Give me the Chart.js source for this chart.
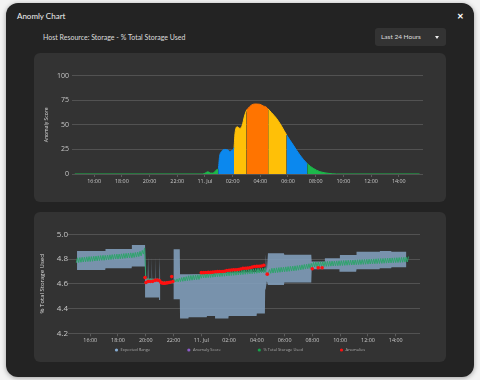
<!DOCTYPE html>
<html>
<head>
<meta charset="utf-8">
<script src="https://cdn.jsdelivr.net/npm/chart.js@4.4.0/dist/chart.umd.min.js"></script>
<style>
  body { margin: 0; width: 480px; height: 380px; background: #f3f3f3; overflow: hidden; font-family: Lato, "Open Sans", sans-serif; }
  .modal { position: absolute; left: 6px; top: 3px; width: 468px; height: 374px; background: #232323; border-radius: 12px; box-shadow: 0 1px 5px rgba(0,0,0,0.35); }
  .title { position: absolute; left: 11px; top: 8px; font-size: 8px; color: #f0f0f0; }
  .close { position: absolute; left: 451px; top: 8px; font-size: 8px; font-weight: 700; color: #fff; }
  .subtitle { position: absolute; left: 37px; top: 29.5px; font-size: 7px; color: #ddd; }
  .dropdown { position: absolute; left: 369px; top: 25px; width: 71px; height: 18px; background: #333; border-radius: 3px; color: #ddd; font-size: 6.5px; }
  .dropdown span { position: absolute; left: 6px; top: 4.5px; }
  .caret { position: absolute; left: 60px; top: 8px; width: 0; height: 0; border-left: 2.5px solid transparent; border-right: 2.5px solid transparent; border-top: 3px solid #eee; }
  .panel { position: absolute; left: 28px; width: 412px; background: #333; border-radius: 6px; }
  canvas { display: block; }
</style>
</head>
<body>
<div class="modal">
  <div class="title">Anomly Chart</div>
  <div class="close">&#x2715;</div>
  <div class="subtitle">Host Resource: Storage - % Total Storage Used</div>
  <div class="dropdown"><span>Last 24 Hours</span><div class="caret"></div></div>
  <div class="panel" style="top:50px;height:149px"><canvas id="scoreChart" width="412" height="149"></canvas></div>
  <div class="panel" style="top:209px;height:150px"><canvas id="usedChart" width="412" height="150"></canvas></div>
</div>
<script>
// hours relative to 11 Jul 00:00
const hourTicks = [-8, -6, -4, -2, 0, 2, 4, 6, 8, 10, 12, 14];
const tickLabels = ['16:00', '18:00', '20:00', '22:00', '11. Jul', '02:00', '04:00', '06:00', '08:00', '10:00', '12:00', '14:00'];

// anomaly score (top chart), level = severity colour of the stretch after the point
const scoreHours = [-9.4, -0.15, 0.05, 0.22, 0.38, 0.55, 0.72, 0.88, 0.96, 1.06, 1.2, 1.44, 1.66, 1.8, 1.95,
  2.1, 2.17, 2.33, 2.53, 2.7, 2.84, 3.01, 3.13, 3.37, 3.61, 3.97, 4.21, 4.4, 4.57, 4.81, 5.17, 5.53,
  5.9, 6.38, 6.86, 7.39, 7.82, 8.3, 8.9, 9.5, 15.5];
const scoreValues = [0, 0, 1.2, 2.3, 1.0, 0.9, 2.5, 4.5, 5, 18, 23, 25, 24.5, 23, 24,
  27, 41, 48, 46.4, 49.8, 58, 65, 67, 70.2, 71.2, 70.9, 69.2, 68.3, 66.1, 62.4, 56.6, 48.8,
  39.7, 29.5, 19.3, 10.5, 5.8, 2.4, 0.7, 0, 0];
const scoreLevels = [0, 0, 0, 0, 0, 0, 0, 0, 1, 1, 1, 1, 1, 1, 1,
  2, 2, 2, 2, 2, 2, 3, 3, 3, 3, 3, 3, 3, 2, 2, 2, 2,
  1, 1, 1, 0, 0, 0, 0, 0, 0];

// % total storage used, every 5 minutes from 15:00 (one row per hour)
const usedStart = -9;
const usedStep = 1 / 12;
const usedValues = [
  4.770, 4.810, 4.772, 4.812, 4.774, 4.814, 4.776, 4.816, 4.778, 4.818, 4.780, 4.820,
  4.780, 4.820, 4.782, 4.822, 4.784, 4.824, 4.786, 4.826, 4.788, 4.828, 4.790, 4.830,
  4.790, 4.830, 4.792, 4.832, 4.794, 4.834, 4.796, 4.836, 4.798, 4.838, 4.800, 4.840,
  4.800, 4.840, 4.802, 4.842, 4.804, 4.844, 4.806, 4.846, 4.808, 4.848, 4.810, 4.850,
  4.810, 4.850, 4.813, 4.853, 4.816, 4.856, 4.820, 4.862, 4.825, 4.870, 4.840, 4.890,
  4.650, 4.635, 4.645, 4.630, 4.642, 4.628, 4.640, 4.626, 4.636, 4.624, 4.632, 4.622,
  4.625, 4.612, 4.622, 4.610, 4.620, 4.608, 4.618, 4.608, 4.616, 4.608, 4.615, 4.610,
  4.612, 4.635, 4.615, 4.640, 4.615, 4.645, 4.618, 4.650, 4.620, 4.655, 4.622, 4.658,
  4.625, 4.665, 4.627, 4.667, 4.629, 4.669, 4.631, 4.671, 4.633, 4.673, 4.635, 4.675,
  4.645, 4.685, 4.647, 4.687, 4.648, 4.688, 4.650, 4.690, 4.651, 4.691, 4.653, 4.693,
  4.655, 4.695, 4.657, 4.697, 4.658, 4.698, 4.660, 4.700, 4.661, 4.701, 4.663, 4.703,
  4.665, 4.705, 4.667, 4.707, 4.668, 4.708, 4.670, 4.710, 4.671, 4.711, 4.673, 4.713,
  4.675, 4.715, 4.677, 4.717, 4.678, 4.718, 4.680, 4.720, 4.681, 4.721, 4.683, 4.723,
  4.685, 4.725, 4.687, 4.727, 4.688, 4.728, 4.690, 4.730, 4.690, 4.672, 4.690, 4.715,
  4.685, 4.725, 4.687, 4.727, 4.689, 4.729, 4.691, 4.731, 4.693, 4.733, 4.695, 4.735,
  4.697, 4.737, 4.699, 4.739, 4.701, 4.741, 4.703, 4.743, 4.705, 4.745, 4.707, 4.747,
  4.710, 4.750, 4.713, 4.753, 4.716, 4.756, 4.719, 4.759, 4.722, 4.762, 4.725, 4.765,
  4.735, 4.775, 4.736, 4.776, 4.737, 4.777, 4.738, 4.778, 4.739, 4.779, 4.740, 4.780,
  4.741, 4.781, 4.742, 4.782, 4.743, 4.783, 4.744, 4.784, 4.745, 4.785, 4.746, 4.786,
  4.747, 4.787, 4.748, 4.788, 4.749, 4.789, 4.750, 4.790, 4.751, 4.791, 4.752, 4.792,
  4.753, 4.793, 4.754, 4.794, 4.755, 4.795, 4.756, 4.796, 4.757, 4.797, 4.758, 4.798,
  4.759, 4.799, 4.760, 4.800, 4.761, 4.801, 4.762, 4.802, 4.763, 4.803, 4.764, 4.804,
  4.765, 4.805, 4.766, 4.806, 4.767, 4.807, 4.768, 4.808, 4.769, 4.809, 4.770, 4.810,
  4.771, 4.811, 4.772, 4.812, 4.773, 4.813, 4.774, 4.814, 4.775, 4.815, 4.776, 4.820
];

// expected range band
const bandHours = [-8.95, -6.92, -6.9, -5.02, -5.0, -4.05, -4.0, -3.86, -3.83, -3.8, -3.6, -3.57, -3.54,
  -3.32, -3.29, -3.26, -3.04, -3.01, -2.95, -2.5, -2.01, -1.55, -1.53, -0.93, -0.91, 0.39, 0.41,
  0.99, 1.01, 1.95, 1.97, 3.98, 4.0, 4.58, 4.6, 4.64, 4.72, 4.8, 5.95, 5.98, 7.92, 7.95, 8.87,
  8.9, 9.95, 9.98, 11.15, 11.18, 12.83, 12.86, 13.67, 13.7, 14.77];
const bandUpper = [4.865, 4.865, 4.881, 4.881, 4.914, 4.914, 4.64, 4.64, 4.82, 4.64, 4.64, 4.82, 4.64,
  4.64, 4.82, 4.64, 4.64, 4.82, 4.62, null, 4.879, 4.879, 4.677, 4.677, 4.677, 4.68, 4.685,
  4.685, 4.687, 4.69, 4.69, 4.695, 4.70, 4.70, 4.70, 4.84, 4.70, 4.846, 4.846, 4.835, 4.835, 4.78, 4.78,
  4.806, 4.806, 4.833, 4.833, 4.86, 4.86, 4.865, 4.865, 4.86, 4.86];
const bandLower = [4.712, 4.712, 4.725, 4.725, 4.739, 4.739, 4.49, 4.49, 4.49, 4.49, 4.49, 4.49, 4.49,
  4.49, 4.49, 4.49, 4.49, 4.47, 4.47, null, 4.475, 4.475, 4.32, 4.32, 4.33, 4.33, 4.34,
  4.34, 4.32, 4.32, 4.34, 4.34, 4.36, 4.36, 4.55, 4.56, 4.62, 4.59, 4.59, 4.61, 4.61, 4.717, 4.717,
  4.717, 4.717, 4.698, 4.698, 4.717, 4.717, 4.725, 4.725, 4.733, 4.733];

// anomalies
const anomalyHours = [-4.05, -3.98, -3.83, -3.67, -3.5, -3.33, -3.17, -3.0, -2.9, -2.83, -2.73, -2.63, -2.53,
  -2.43, -2.33, -2.23, -2.13, -2.05,
  0.0, 0.17, 0.33, 0.5, 0.67, 0.83, 1.0, 1.17, 1.33, 1.5, 1.67, 1.83, 2.0, 2.17, 2.33, 2.5, 2.67,
  2.83, 3.0, 3.17, 3.33, 3.5, 3.67, 3.83, 4.0, 4.17, 4.33, 4.5, 4.75,
  7.99, 8.42, 8.7];
const anomalyValues = [4.65, 4.61, 4.62, 4.618, 4.62, 4.628, 4.63, 4.625, 4.61, 4.606, 4.604, 4.604, 4.606,
  4.608, 4.61, 4.612, 4.658, 4.618,
  4.690, 4.690, 4.691, 4.692, 4.692, 4.694, 4.697, 4.698, 4.700, 4.700, 4.702, 4.708, 4.710, 4.712, 4.713, 4.713, 4.715,
  4.720, 4.725, 4.726, 4.727, 4.730, 4.735, 4.740, 4.741, 4.742, 4.744, 4.750, 4.678,
  4.722, 4.730, 4.730];

const levelColors = ['#1db84b', '#0b88ee', '#ffc007', '#ff7400'];
const tickColor = '#c8c8c8';
const gridColor = '#525252';

Chart.defaults.font.family = '"Open Sans", sans-serif';

function timeAxis(fontSize, height) {
  return {
    type: 'linear',
    min: -9.6,
    max: 15.75,
    afterBuildTicks: s => { s.ticks = hourTicks.map(v => ({ value: v })); },
    afterFit: s => { s.height = height; },
    ticks: {
      color: tickColor,
      font: { size: fontSize },
      padding: 1,
      maxRotation: 0,
      autoSkip: false,
      callback: (v, i) => tickLabels[i]
    },
    grid: { drawOnChartArea: false, drawTicks: true, tickLength: 3, color: '#5c5c5c' },
    border: { display: false }
  };
}

new Chart(document.getElementById('scoreChart'), {
  type: 'line',
  data: {
    datasets: [{
      label: 'Anomaly Score',
      data: scoreHours.map((h, i) => ({ x: h, y: scoreValues[i] })),
      fill: 'origin',
      borderWidth: 1,
      borderColor: levelColors[0],
      backgroundColor: levelColors[0],
      pointRadius: 0,
      cubicInterpolationMode: 'monotone',
      segment: {
        borderColor: c => levelColors[scoreLevels[c.p0DataIndex]],
        backgroundColor: c => levelColors[scoreLevels[c.p0DataIndex]]
      }
    }]
  },
  options: {
    responsive: false,
    animation: false,
    layout: { padding: { top: 22.7, right: 23, bottom: 0, left: 0 } },
    plugins: { legend: { display: false }, tooltip: { enabled: false } },
    scales: {
      x: timeAxis(5.4, 28),
      y: {
        min: 0,
        max: 100,
        afterFit: s => { s.width = 38; },
        ticks: { stepSize: 25, color: tickColor, font: { size: 7 }, padding: 3 },
        grid: { color: gridColor, drawTicks: false },
        border: { display: false },
        title: { display: true, text: 'Anomaly Score', color: '#ddd', font: { size: 5 }, padding: { top: 10, bottom: 0 } }
      }
    }
  }
});

// small dot legend under the second chart
const dotLegend = {
  id: 'dotLegend',
  afterDraw(chart) {
    const ctx = chart.ctx;
    const items = chart.data.datasets.filter(d => !d.hideInLegend);
    const gap = 37, r = 1.6, textGap = 2.5;
    ctx.save();
    ctx.font = '4px "Open Sans"';
    ctx.textBaseline = 'middle';
    const widths = items.map(d => r * 2 + textGap + ctx.measureText(d.label).width);
    const total = widths.reduce((a, b) => a + b, 0) + gap * (items.length - 1);
    let x = chart.width / 2 - total / 2;
    const y = chart.chartArea.bottom + 16.7;
    items.forEach((d, i) => {
      ctx.fillStyle = d.legendColor;
      ctx.beginPath();
      ctx.arc(x + r, y, r, 0, Math.PI * 2);
      ctx.fill();
      ctx.fillStyle = '#aaa';
      ctx.fillText(d.label, x + r * 2 + textGap, y);
      x += widths[i] + gap;
    });
    ctx.restore();
  }
};

const bandColor = 'rgba(132,162,192,0.86)';

new Chart(document.getElementById('usedChart'), {
  type: 'line',
  data: {
    datasets: [
      {
        label: 'Expected Range',
        legendColor: '#86acd2',
        data: bandHours.map((h, i) => ({ x: h, y: bandUpper[i] })),
        fill: '+1',
        backgroundColor: bandColor,
        borderWidth: 0,
        pointRadius: 0,
        order: 3
      },
      {
        label: 'Expected Lower',
        hideInLegend: true,
        data: bandHours.map((h, i) => ({ x: h, y: bandLower[i] })),
        fill: false,
        borderWidth: 0,
        pointRadius: 0,
        order: 3
      },
      {
        label: 'Anomaly Score',
        legendColor: '#8c5cc8',
        data: [],
        borderColor: '#8c5cc8',
        order: 2
      },
      {
        label: '% Total Storage Used',
        legendColor: '#16a34a',
        data: usedValues.map((v, i) => ({ x: usedStart + i * usedStep, y: v })),
        borderColor: '#2ea56c',
        borderWidth: 1,
        pointRadius: 0,
        fill: false,
        order: 1
      },
      {
        label: 'Anomalies',
        legendColor: '#ff1010',
        data: anomalyHours.map((h, i) => ({ x: h, y: anomalyValues[i] })),
        showLine: false,
        pointRadius: 1.8,
        pointBorderWidth: 0,
        pointBackgroundColor: '#ff1010',
        order: 0
      }
    ]
  },
  options: {
    responsive: false,
    animation: false,
    layout: { padding: { top: 22.3, right: 26, bottom: 16.7, left: 0 } },
    plugins: { legend: { display: false }, tooltip: { enabled: false } },
    scales: {
      x: timeAxis(5.4, 12),
      y: {
        min: 4.2,
        max: 5,
        afterFit: s => { s.width = 34; },
        ticks: { stepSize: 0.2, color: tickColor, font: { size: 8 }, padding: 0 },
        grid: { color: gridColor, drawTicks: false },
        border: { display: false },
        title: { display: true, text: '% Total Storage Used', color: '#ddd', font: { size: 6 }, padding: { top: 5, bottom: 0 } }
      }
    }
  },
  plugins: [dotLegend]
});
</script>
</body>
</html>
